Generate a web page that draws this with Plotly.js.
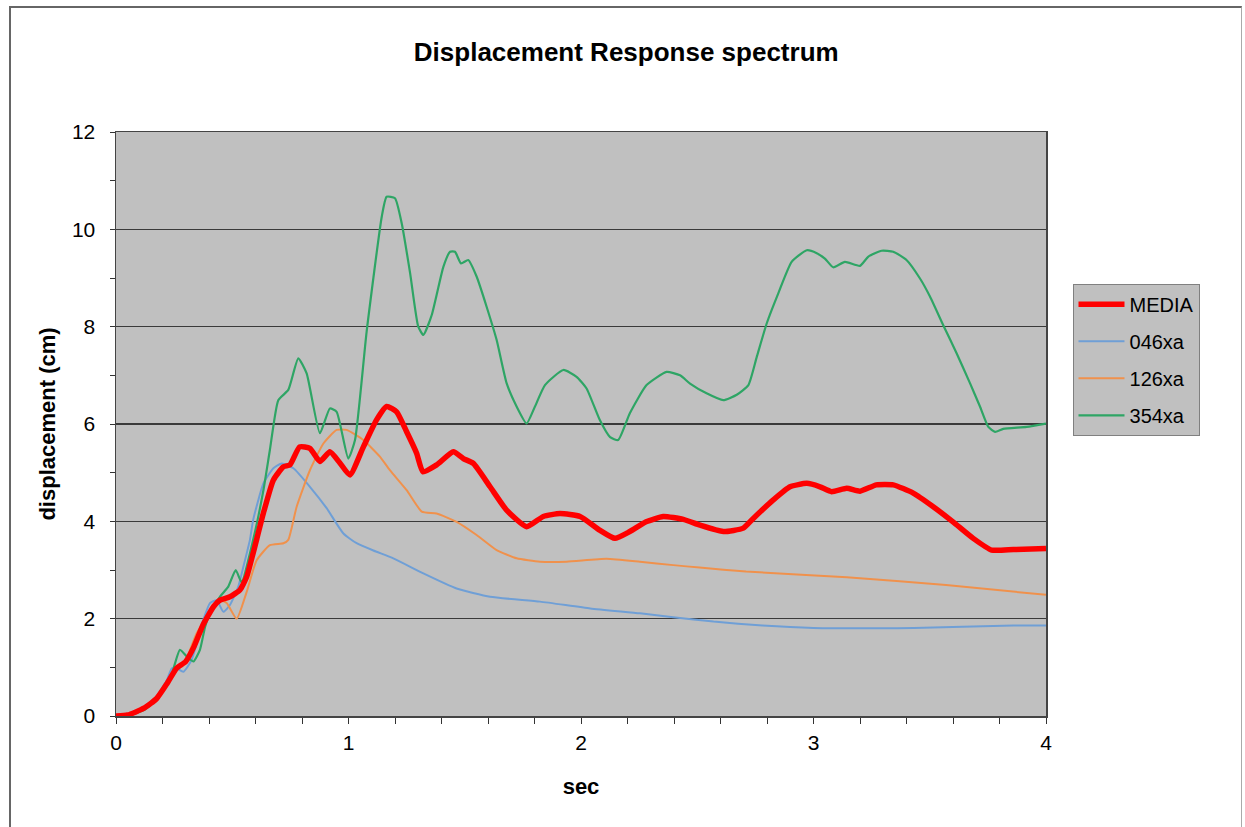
<!DOCTYPE html>
<html>
<head>
<meta charset="utf-8">
<script src="https://cdn.plot.ly/plotly-3.0.1.min.js"></script>
<style>
  html, body { margin: 0; padding: 0; background: #ffffff; }
  #chart { width: 1245px; height: 827px; }
  #frame { position: absolute; left: 9px; top: 6px; width: 1230px; height: 840px;
           border-left: 2px solid #666; border-top: 2px solid #666; border-right: 1px solid #aaa;
           pointer-events: none; }
</style>
</head>
<body>
<div id="chart"></div>
<div id="frame"></div>
<script>
// ---- data ----
const mediaT = [0, 0.05, 0.12, 0.175, 0.22, 0.26, 0.3, 0.335, 0.375, 0.42, 0.447, 0.49, 0.533, 0.562, 0.59, 0.634, 0.677, 0.72, 0.748, 0.79, 0.834, 0.877, 0.92, 0.963, 1.006, 1.064, 1.12, 1.164, 1.207, 1.25, 1.293, 1.32, 1.379, 1.451, 1.494, 1.537, 1.609, 1.68, 1.766, 1.838, 1.91, 1.996, 2.08, 2.146, 2.21, 2.28, 2.354, 2.44, 2.512, 2.612, 2.698, 2.741, 2.827, 2.899, 2.971, 3.028, 3.078, 3.143, 3.2, 3.27, 3.343, 3.429, 3.515, 3.6, 3.687, 3.766, 3.86, 4.0];
const mediaY = [0, 0.02, 0.16, 0.36, 0.67, 0.98, 1.12, 1.42, 1.88, 2.25, 2.38, 2.45, 2.59, 2.86, 3.35, 4.17, 4.85, 5.12, 5.16, 5.53, 5.5, 5.23, 5.43, 5.2, 4.95, 5.53, 6.08, 6.36, 6.25, 5.84, 5.4, 5.02, 5.16, 5.43, 5.29, 5.19, 4.71, 4.23, 3.89, 4.1, 4.16, 4.1, 3.82, 3.65, 3.79, 3.99, 4.1, 4.04, 3.92, 3.79, 3.86, 4.06, 4.44, 4.71, 4.78, 4.71, 4.61, 4.68, 4.62, 4.75, 4.75, 4.58, 4.3, 3.99, 3.65, 3.41, 3.42, 3.44];

const s046T = [0, 0.05, 0.12, 0.175, 0.22, 0.24, 0.26, 0.29, 0.325, 0.375, 0.404, 0.433, 0.462, 0.49, 0.526, 0.548, 0.576, 0.59, 0.634, 0.677, 0.713, 0.763, 0.834, 0.906, 0.978, 1.035, 1.107, 1.193, 1.322, 1.465, 1.609, 1.824, 2.04, 2.254, 2.397, 2.57, 2.78, 3.0, 3.43, 3.86, 4.0];
const s046Y = [0, 0.02, 0.16, 0.4, 0.75, 0.98, 0.98, 0.91, 1.15, 1.97, 2.32, 2.38, 2.14, 2.28, 2.66, 3.07, 3.62, 4.03, 4.78, 5.09, 5.19, 5.09, 4.71, 4.27, 3.75, 3.55, 3.4, 3.24, 2.93, 2.62, 2.45, 2.35, 2.21, 2.11, 2.03, 1.94, 1.86, 1.81, 1.81, 1.86, 1.86];

const s126T = [0, 0.05, 0.12, 0.175, 0.22, 0.26, 0.3, 0.347, 0.404, 0.447, 0.476, 0.519, 0.562, 0.605, 0.662, 0.72, 0.741, 0.777, 0.834, 0.892, 0.949, 0.992, 1.064, 1.135, 1.178, 1.25, 1.315, 1.379, 1.465, 1.551, 1.637, 1.723, 1.824, 1.938, 2.11, 2.254, 2.397, 2.51, 2.71, 3.143, 3.57, 4.0];
const s126Y = [0, 0.02, 0.14, 0.35, 0.65, 0.95, 1.15, 1.7, 2.11, 2.38, 2.32, 2.0, 2.55, 3.2, 3.51, 3.55, 3.62, 4.3, 5.05, 5.6, 5.88, 5.88, 5.67, 5.33, 5.05, 4.64, 4.2, 4.16, 3.99, 3.72, 3.41, 3.24, 3.17, 3.17, 3.23, 3.17, 3.1, 3.05, 2.97, 2.85, 2.69, 2.49];

const s354T = [0, 0.05, 0.12, 0.175, 0.232, 0.275, 0.311, 0.333, 0.361, 0.383, 0.404, 0.447, 0.483, 0.515, 0.54, 0.59, 0.634, 0.662, 0.698, 0.741, 0.784, 0.82, 0.877, 0.92, 0.949, 0.999, 1.028, 1.078, 1.143, 1.164, 1.2, 1.229, 1.265, 1.3, 1.322, 1.358, 1.408, 1.437, 1.458, 1.484, 1.515, 1.551, 1.594, 1.637, 1.68, 1.723, 1.766, 1.802, 1.845, 1.924, 1.981, 2.024, 2.081, 2.125, 2.16, 2.21, 2.282, 2.368, 2.426, 2.469, 2.54, 2.612, 2.67, 2.72, 2.756, 2.799, 2.849, 2.906, 2.971, 3.014, 3.049, 3.085, 3.135, 3.2, 3.236, 3.293, 3.343, 3.4, 3.458, 3.501, 3.558, 3.616, 3.673, 3.716, 3.752, 3.781, 3.816, 3.917, 4.0];
const s354Y = [0, 0.01, 0.12, 0.35, 0.74, 1.36, 1.19, 1.12, 1.36, 1.83, 2.11, 2.45, 2.66, 3.0, 2.75, 3.62, 4.64, 5.47, 6.49, 6.7, 7.35, 7.04, 5.81, 6.32, 6.25, 5.29, 5.67, 7.9, 10.26, 10.67, 10.64, 10.12, 9.1, 8.0, 7.83, 8.24, 9.23, 9.54, 9.54, 9.3, 9.37, 9.03, 8.41, 7.73, 6.84, 6.36, 6.01, 6.36, 6.8, 7.11, 6.97, 6.73, 6.08, 5.73, 5.67, 6.22, 6.8, 7.07, 7.0, 6.83, 6.63, 6.49, 6.6, 6.8, 7.38, 8.07, 8.69, 9.33, 9.57, 9.51, 9.4, 9.22, 9.33, 9.25, 9.44, 9.56, 9.54, 9.37, 8.99, 8.62, 8.03, 7.45, 6.84, 6.36, 5.94, 5.84, 5.9, 5.94, 6.01];

const seriesNames = ["MEDIA", "046xa", "126xa", "354xa"];
const xTickVals = [0, 1, 2, 3, 4];
const yTickVals = [0, 2, 4, 6, 8, 10, 12];

const FONT = "Liberation Sans, Arial, sans-serif";

function tr(name, x, y, color, width, group, rank) {
  return { type: "scatter", mode: "lines", name: name, x: x, y: y,
           legendgroup: group, legendrank: rank,
           line: { color: color, width: width, shape: "spline", smoothing: 0.5 } };
}

const data = [
  tr(seriesNames[1], s046T, s046Y, "#6f9fd6", 2, "g2", 2),
  tr(seriesNames[2], s126T, s126Y, "#f0914c", 2, "g3", 3),
  tr(seriesNames[3], s354T, s354Y, "#2ea565", 2.2, "g4", 4),
  tr(seriesNames[0], mediaT, mediaY, "#ff0000", 5.5, "g1", 1),
];

const layout = {
  width: 1245, height: 827,
  margin: { l: 116, r: 199, t: 132, b: 111 },
  paper_bgcolor: "#ffffff",
  plot_bgcolor: "#c0c0c0",
  font: { family: FONT, color: "#000", size: 21 },
  title: { text: "<b>Displacement Response spectrum</b>", font: { family: FONT, size: 26, color: "#000" },
           xref: "container", x: 0.503, xanchor: "center", yref: "container", y: 1 - 52/827, yanchor: "middle" },
  showlegend: true,
  legend: {
    x: 1.0285, xanchor: "left", y: 0.74, yanchor: "top",
    bgcolor: "#c0c0c0", bordercolor: "#808080", borderwidth: 1,
    font: { family: FONT, size: 20, color: "#000" },
    traceorder: "grouped", tracegroupgap: 8, itemwidth: 46,
  },
  xaxis: {
    range: [0, 4], tickvals: xTickVals, ticktext: xTickVals.map(String),
    ticks: "outside", ticklen: 6, tickcolor: "#333", tickwidth: 1,
    minor: { dtick: 0.2, tick0: 0, ticks: "outside", ticklen: 6, tickcolor: "#333", showgrid: false },
    showgrid: false, zeroline: false,
    showline: true, linecolor: "#444", linewidth: 1.5, mirror: true,
    ticklabelstandoff: 1,
    tickfont: { family: FONT, size: 21 },
    title: { text: "<b>sec</b>", font: { family: FONT, size: 22 }, standoff: 26 },
  },
  yaxis: {
    range: [0, 12], tickvals: yTickVals, ticktext: yTickVals.map(String),
    ticks: "outside", ticklen: 5, tickcolor: "#333", tickwidth: 1,
    minor: { dtick: 1, tick0: 0, ticks: "outside", ticklen: 5, tickcolor: "#333", showgrid: false },
    showgrid: true, gridcolor: "#3a3a3a", gridwidth: 1.5,
    zeroline: false,
    showline: true, linecolor: "#444", linewidth: 1.5, mirror: true,
    ticklabelstandoff: 10,
    tickfont: { family: FONT, size: 21 },
    title: { text: "<b>displacement (cm)</b>", font: { family: FONT, size: 22 }, standoff: 10 },
  },
};

Plotly.newPlot("chart", data, layout, { staticPlot: true, displayModeBar: false });
</script>
</body>
</html>
